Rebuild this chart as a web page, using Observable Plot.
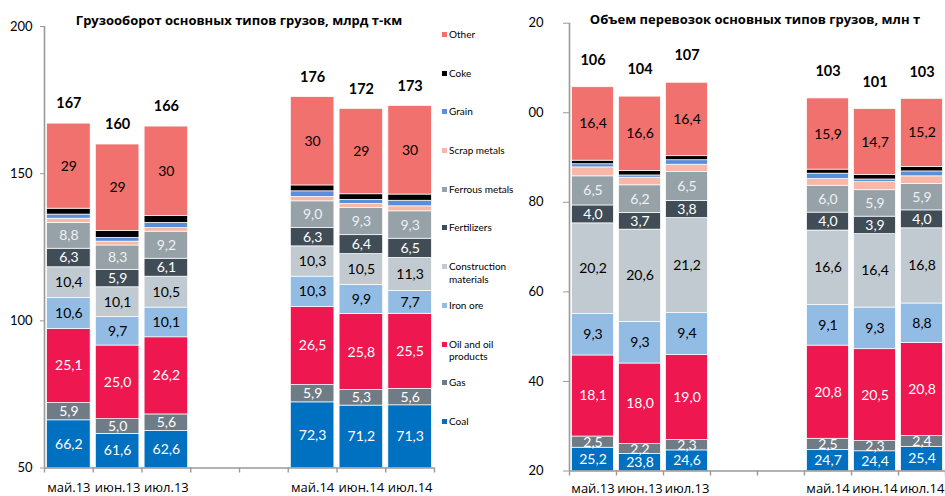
<!DOCTYPE html>
<html>
<head>
<meta charset="utf-8">
<script src="https://cdn.jsdelivr.net/npm/d3@7"></script>
<script src="https://cdn.jsdelivr.net/npm/@observablehq/plot@0.6"></script>
<style>
  body { margin: 0; background: #fff; }
  #wrap { position: relative; width: 945px; height: 496px; overflow: hidden; background: #fff; font-family: Lato, "Open Sans", sans-serif; color: #000; }
  .title { position: absolute; font-family: "Open Sans", sans-serif; font-weight: bold; font-size: 13px; white-space: nowrap; transform: translate(-50%, -50%); }
  #left { position: absolute; left: 0; top: 0; }
  #right { position: absolute; left: 528px; top: 0; }
  #right svg { overflow: hidden; }
  #legend { position: absolute; left: 442px; top: 28px; font-family: Lato, "Open Sans", sans-serif; font-size: 10px; line-height: 12.6px; }
  .item { position: relative; height: 38.7px; padding-left: 7px; white-space: nowrap; }
  .sw { position: absolute; left: 0; top: 4px; width: 5px; height: 5px; }
</style>
</head>
<body>
<div id="wrap">
  <div id="left"></div>
  <div id="right"></div>
  <div id="legend"></div>
  <div class="title" style="left:239px;top:20px">Грузооборот основных типов грузов, млрд т-км</div>
  <div class="title" style="left:755px;top:19px">Объем перевозок основных типов грузов, млн т</div>
</div>
<script>
// ---------- data ----------
const periods = ["май.13", "июн.13", "июл.13", "май.14", "июн.14", "июл.14"];
const categories = ["Coal", "Gas", "Oil and oil products", "Iron ore", "Construction materials",
  "Fertilizers", "Ferrous metals", "Scrap metals", "Grain", "Coke", "Other"];
const legendLabels = ["Coal", "Gas", "Oil and oil<br>products", "Iron ore", "Construction<br>materials",
  "Fertilizers", "Ferrous metals", "Scrap metals", "Grain", "Coke", "Other"];

// Грузооборот, млрд т-км
const tCoal = [66.2, 61.6, 62.6, 72.3, 71.2, 71.3];
const tGas = [5.9, 5.0, 5.6, 5.9, 5.3, 5.6];
const tOil = [25.1, 25.0, 26.2, 26.5, 25.8, 25.5];
const tIron = [10.6, 9.7, 10.1, 10.3, 9.9, 7.7];
const tConstr = [10.4, 10.1, 10.5, 10.3, 10.5, 11.3];
const tFert = [6.3, 5.9, 6.1, 6.3, 6.4, 6.5];
const tFerrous = [8.8, 8.3, 9.2, 9.0, 9.3, 9.3];
const tScrap = [1.4, 1.3, 1.2, 1.5, 1.3, 1.7];
const tGrain = [1.4, 1.3, 1.8, 1.9, 1.4, 1.9];
const tCoke = [2.0, 2.3, 2.3, 2.0, 1.9, 2.1];
const tOther = [28.9, 29.4, 30.4, 30.0, 29.0, 30.1];

// Объем перевозок, млн т
const vCoal = [25.2, 23.8, 24.6, 24.7, 24.4, 25.4];
const vGas = [2.5, 2.2, 2.3, 2.5, 2.3, 2.4];
const vOil = [18.1, 18.0, 19.0, 20.8, 20.5, 20.8];
const vIron = [9.3, 9.3, 9.4, 9.1, 9.3, 8.8];
const vConstr = [20.2, 20.6, 21.2, 16.6, 16.4, 16.8];
const vFert = [4.0, 3.7, 3.8, 4.0, 3.9, 4.0];
const vFerrous = [6.5, 6.2, 6.5, 6.0, 5.9, 5.9];
const vScrap = [2.0, 1.7, 1.6, 1.5, 1.8, 1.7];
const vGrain = [0.7, 0.5, 1.0, 1.2, 0.6, 1.1];
const vCoke = [0.8, 1.0, 0.9, 0.9, 1.0, 1.0];
const vOther = [16.4, 16.6, 16.4, 15.9, 14.7, 15.2];

const turnoverTicks = [50, 100, 150, 200];
const volumeTicks = [20, 40, 60, 80, 100, 120];

// ---------- styles ----------
const colors = ["#0070C0", "#6F7C85", "#EE174F", "#93BCE5", "#C2CAD1",
  "#414D56", "#96A1A8", "#F9B7A7", "#5B8ED8", "#000000", "#F0716E"];
const labelColors = ["#fff", "#fff", "#fff", "#000", "#000", "#fff", "#eef1f3", null, null, null, "#000"];

const loc = d3.formatLocale({decimal: ",", thousands: " ", grouping: [3], currency: ["", ""]});
const f1 = loc.format(".1f");
const f0 = loc.format(".0f");

function chart({series, yDomain, yTicks, width, marginLeft, marginRight, marginTop, marginBottom,
                otherFmt, totalDy, tickPadding, tickSize, labelDy}) {
  const height = 496;
  const rows = [], totals = [];
  periods.forEach((p, i) => {
    const pos = i < 3 ? i : i + 2;
    let cum = 0;
    categories.forEach((c, k) => {
      const v = series[k][i];
      rows.push({period: p, pos, cat: c, k, v, y1: cum, y2: cum + v});
      cum += v;
    });
    totals.push({period: p, pos, total: cum});
  });
  const lo = yDomain[0];
  const labelled = rows.filter(d => labelColors[d.k] !== null);
  return Plot.plot({
    width, height, marginLeft, marginRight, marginTop, marginBottom,
    x: {type: "linear", domain: [0, 8], axis: null},
    y: {domain: yDomain, axis: null},
    color: {domain: categories, range: colors},
    style: {fontFamily: "Lato, 'Open Sans', sans-serif", background: "transparent", overflow: "hidden"},
    marks: [
      Plot.rectY(rows, {x1: "pos", x2: d => d.pos + 1, y1: "y1", y2: "y2", fill: "cat",
        insetLeft: 2.6, insetRight: 2.6, stroke: "#fff", strokeWidth: 0.7, clip: true}),
      Plot.text(labelled, {x: d => d.pos + 0.5, y: d => (Math.max(d.y1, lo) + d.y2) / 2,
        text: d => (d.k === 10 ? otherFmt(d.v) : f1(d.v)), fill: d => labelColors[d.k], fontSize: 14}),
      Plot.text(totals, {x: d => d.pos + 0.5, y: "total", dy: totalDy, text: d => f0(d.total),
        fontWeight: "bold", fontSize: 14.5, fill: "#000"}),
      Plot.ruleX([0], {stroke: "#9a9a9a", strokeWidth: 1.6}),
      Plot.ruleY([lo], {stroke: "#9a9a9a", strokeWidth: 1.6}),
      Plot.ruleX(d3.range(0, 9), {y1: lo, y2: lo, insetBottom: -5, stroke: "#9a9a9a", strokeWidth: 1.4}),
      Plot.axisY({ticks: yTicks, tickSize, tickPadding, tickFormat: d => String(d),
        stroke: "#9a9a9a", fill: "#000", fontSize: 13}),
      Plot.text(totals, {x: d => d.pos + 0.5, y: lo, dy: labelDy, text: "period",
        fontSize: 13, fontFamily: "'Open Sans', sans-serif", fill: "#000"})
    ]
  });
}

document.getElementById("left").appendChild(chart({
  series: [tCoal, tGas, tOil, tIron, tConstr, tFert, tFerrous, tScrap, tGrain, tCoke, tOther],
  yDomain: [50, 200], yTicks: turnoverTicks, width: 440,
  marginLeft: 44, marginRight: 6, marginTop: 26, marginBottom: 28.5,
  otherFmt: f0, totalDy: -20, tickPadding: 8, tickSize: 4, labelDy: 20
}));

document.getElementById("right").appendChild(chart({
  series: [vCoal, vGas, vOil, vIron, vConstr, vFert, vFerrous, vScrap, vGrain, vCoke, vOther],
  yDomain: [20, 120], yTicks: volumeTicks, width: 417,
  marginLeft: 41, marginRight: 0, marginTop: 22.7, marginBottom: 25.5,
  otherFmt: f1, totalDy: -27, tickPadding: 20, tickSize: 6, labelDy: 18
}));

// legend (top to bottom: reverse stack order)
const legend = document.getElementById("legend");
for (let k = categories.length - 1; k >= 0; k--) {
  const div = document.createElement("div");
  div.className = "item";
  div.innerHTML = `<span class="sw" style="background:${colors[k]}"></span>${legendLabels[k]}`;
  legend.appendChild(div);
}
</script>
</body>
</html>
